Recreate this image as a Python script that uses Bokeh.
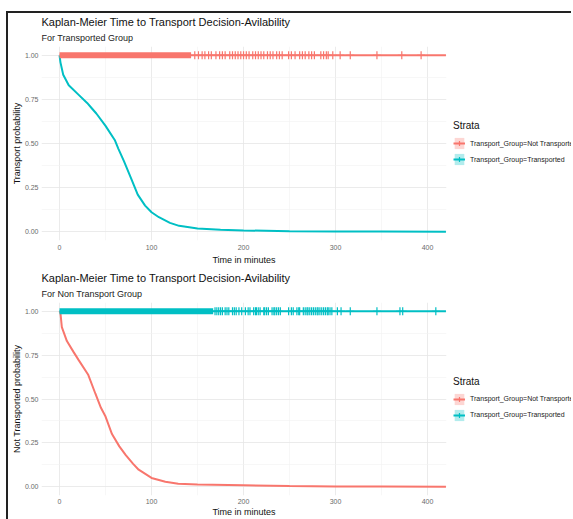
from bokeh.plotting import figure
from bokeh.models import (FixedTicker, PrintfTickFormatter, Title, Legend,
                          LegendItem, Range1d, Spacer)
from bokeh.layouts import column, row
from bokeh.embed import file_html
from bokeh.resources import INLINE

RED = "#F8766D"
TEAL = "#00BFC4"
FONT = "Liberation Sans"

# ---------------- data ----------------
x_ticks = [0, 100, 200, 300, 400]
x_minor = [50, 150, 250, 350]
y_ticks = [0.0, 0.25, 0.5, 0.75, 1.0]
y_minor = [0.125, 0.375, 0.625, 0.875]

strata_labels = ["Transport_Group=Not Transported", "Transport_Group=Transported"]

# Top panel: "For Transported Group"
top_curve_t = [0, 1, 4, 10, 20, 30, 35, 40, 50, 60, 64, 70, 78, 85, 93, 100,
               108, 120, 130, 150, 175, 200, 250, 300, 350, 420]
top_curve_s = [1.0, 0.96, 0.89, 0.83, 0.78, 0.73, 0.70, 0.67, 0.60, 0.52, 0.47,
               0.40, 0.30, 0.21, 0.148, 0.11, 0.082, 0.05, 0.033, 0.018, 0.011,
               0.007, 0.003, 0.0015, 0.001, 0.0]
top_flat_t = [0, 420]
top_flat_s = [1.0, 1.0]
top_dense_censor = [0, 143]
top_censor_t = [147, 151, 155, 158, 162, 165, 170, 174, 177, 180, 185, 188, 191,
                194, 197, 200, 203, 206, 210, 213, 216, 219, 222, 226, 229, 232,
                236, 239, 242, 249, 252, 256, 261, 264, 267, 271, 274, 277, 284,
                287, 290, 292, 297, 305, 316, 345, 372, 393]

# Bottom panel: "For Non Transport Group"
bot_curve_t = [0, 1, 2.5, 8, 15, 21, 31, 39, 45, 50, 57, 65, 72, 80, 86, 100,
               115, 129, 150, 200, 250, 300, 350, 420]
bot_curve_s = [1.0, 0.99, 0.91, 0.83, 0.77, 0.72, 0.64, 0.53, 0.45, 0.40, 0.30,
               0.23, 0.18, 0.13, 0.097, 0.05, 0.028, 0.017, 0.012, 0.008, 0.004,
               0.002, 0.001, 0.0]
bot_flat_t = [0, 420]
bot_flat_s = [1.0, 1.0]
bot_dense_censor = [0, 167]
bot_censor_t = [169, 171, 173, 175, 177, 180, 182, 184, 188, 190, 192, 195, 198,
                202, 205, 207, 211, 213, 214, 216, 218, 222, 223, 225, 227, 231,
                233, 234, 236, 238, 240, 249, 252, 254, 258, 260, 261, 265, 267,
                269, 270, 272, 274, 276, 278, 280, 281, 283, 285, 287, 289, 291,
                292, 294, 296, 302, 306, 316, 345, 370, 373, 409]

LEFT = 33
PLOT_W = LEFT + 405 + 5
LEG_W = 120


def panel(title, subtitle, ylabel, curve_t, curve_s, curve_color,
          flat_t, flat_s, flat_color, dense, censor_t, height, top, bottom,
          tick_standoff, label_standoff):
    p = figure(width=PLOT_W, height=height, title=None, output_backend="svg",
               toolbar_location=None, x_range=Range1d(-19.6, 420.6),
               y_range=Range1d(-0.05, 1.05), min_border_left=LEFT,
               min_border_right=5, min_border_top=top,
               min_border_bottom=bottom,
               background_fill_color="white", border_fill_color="white",
               outline_line_color=None)
    p.add_layout(Title(text=subtitle, text_font=FONT, text_font_size="9px",
                       text_font_style="normal", text_color="#222222",
                       standoff=7), "above")
    p.add_layout(Title(text=title, text_font=FONT, text_font_size="11px",
                       text_font_style="normal", text_color="#111111",
                       standoff=0), "above")

    p.xaxis.ticker = FixedTicker(ticks=x_ticks, minor_ticks=x_minor)
    p.yaxis.ticker = FixedTicker(ticks=y_ticks, minor_ticks=y_minor)
    p.yaxis.formatter = PrintfTickFormatter(format="%.2f")
    for ax in (p.xaxis[0], p.yaxis[0]):
        ax.axis_line_color = None
        ax.major_tick_line_color = None
        ax.minor_tick_line_color = None
        ax.major_tick_out = 0
        ax.major_tick_in = 0
        ax.minor_tick_out = 0
        ax.minor_tick_in = 0
        ax.major_label_text_font = FONT
        ax.major_label_text_font_size = "7px"
        ax.major_label_text_color = "#6b6b6b"
        ax.axis_label_text_font = FONT
        ax.axis_label_text_font_size = "9px"
        ax.axis_label_text_font_style = "normal"
        ax.axis_label_text_color = "#111111"
    p.yaxis.major_label_standoff = 3
    p.xaxis.major_label_standoff = tick_standoff
    p.xaxis.axis_label = "Time in minutes"
    p.xaxis.axis_label_standoff = label_standoff
    p.yaxis.axis_label = ylabel
    p.yaxis.axis_label_standoff = 0

    p.xgrid.grid_line_color = "#e6e6e6"
    p.ygrid.grid_line_color = "#e6e6e6"
    p.xgrid.minor_grid_line_color = "#f1f1f1"
    p.ygrid.minor_grid_line_color = "#f1f1f1"
    p.xgrid.grid_line_width = 0.8
    p.ygrid.grid_line_width = 0.8
    p.xgrid.minor_grid_line_width = 0.6
    p.ygrid.minor_grid_line_width = 0.6

    p.line(curve_t, curve_s, line_color=curve_color, line_width=2)
    p.line(flat_t, flat_s, line_color=flat_color, line_width=2)
    p.hbar(y=[1.0], left=[dense[0]], right=[dense[1]], height=0.034,
           fill_color=flat_color, line_color=None)
    p.scatter(censor_t, [1.0] * len(censor_t), marker="cross",
              size=8, line_color=flat_color, line_width=1.2)
    return p


def legend_fig(height, top, bottom):
    # same frame offsets as the plot so the row keeps both frames aligned
    lf = figure(width=LEG_W, height=height, title=None, output_backend="svg",
                toolbar_location=None, x_range=Range1d(0, 1),
                y_range=Range1d(0, 1), x_axis_location=None,
                y_axis_location=None, min_border_left=0, min_border_right=0,
                min_border_bottom=bottom, min_border_top=top,
                outline_line_color=None,
                background_fill_color="white", border_fill_color="white")
    lf.grid.visible = False
    nan = float("nan")
    items = []
    for lab, col in zip(strata_labels, [RED, TEAL]):
        box = lf.rect([nan], [nan], width=1, height=1, fill_color=col,
                      fill_alpha=0.3, line_color=None)
        ln = lf.line([nan, nan], [nan, nan], line_color=col, line_width=2)
        mk = lf.scatter([nan], [nan], marker="cross", size=9, line_color=col,
                        line_width=1.2)
        items.append(LegendItem(label=lab, renderers=[box, ln, mk]))
    legend = Legend(items=items, location="left", title="Strata",
                    title_text_font=FONT, title_text_font_size="10px",
                    title_text_font_style="normal", title_text_color="#111111",
                    title_standoff=5,
                    label_text_font=FONT, label_text_font_size="7px",
                    label_text_color="#222222", glyph_width=12, glyph_height=14,
                    label_height=14, label_standoff=5, spacing=2, padding=4,
                    margin=2, border_line_color=None,
                    background_fill_alpha=0.0)
    lf.add_layout(legend, "center")
    return lf


H1, H2 = 256, 250
p1 = panel("Kaplan-Meier Time to Transport Decision-Avilability",
           "For Transported Group", "Transport probability",
           top_curve_t, top_curve_s, TEAL, top_flat_t, top_flat_s, RED,
           top_dense_censor, top_censor_t, H1, 33, 29, 4, 2)
p2 = panel("Kaplan-Meier Time to Transport Decision-Avilability",
           "For Non Transport Group", "Not Transported probability",
           bot_curve_t, bot_curve_s, RED, bot_flat_t, bot_flat_s, TEAL,
           bot_dense_censor, bot_censor_t, H2, 33, 24, 3, 0)
l1 = legend_fig(H1, 33, 29)
l2 = legend_fig(H2, 33, 24)

BORDER = {"background-color": "#222222"}
charts = column(row(p1, l1, spacing=0), row(p2, l2, spacing=0), spacing=0)
layout = column(
    Spacer(width=10, height=11),
    row(Spacer(width=6, height=2),
        Spacer(width=PLOT_W + LEG_W + 2, height=2, styles=BORDER), spacing=0),
    row(Spacer(width=6, height=H1 + H2),
        Spacer(width=2, height=H1 + H2, styles=BORDER), charts, spacing=0),
    spacing=0)

open("out.html", "w").write(file_html(layout, INLINE))
